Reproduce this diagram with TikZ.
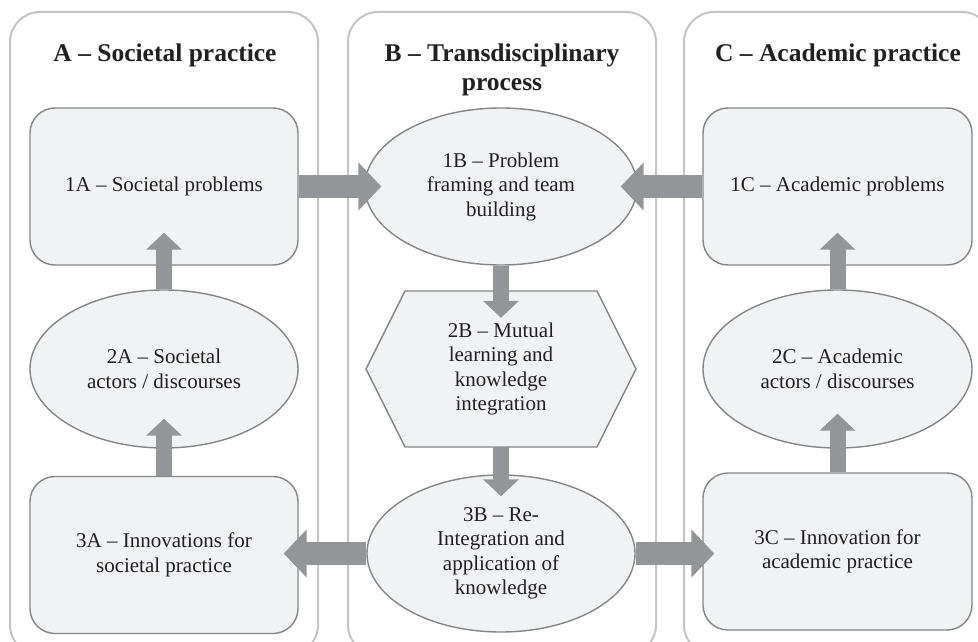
\documentclass[tikz,border=0pt]{standalone}
\usepackage{fontspec}
\setmainfont{Liberation Serif}
\usetikzlibrary{arrows.meta,shapes.geometric}
\definecolor{panelgrey}{HTML}{C4C4C4}
\definecolor{boxline}{HTML}{858585}
\definecolor{boxfill}{HTML}{F1F2F4}
\definecolor{arrowgrey}{HTML}{939598}
\definecolor{txt}{HTML}{231F20}
\begin{document}
\begin{tikzpicture}[x=1pt,y=-1pt,
  panel/.style={draw=panelgrey, line width=2pt, rounded corners=30pt, minimum width=308pt, minimum height=643pt, inner sep=0pt},
  ptitle/.style={text=txt, font=\bfseries\fontsize{25.5}{28.5}\selectfont, align=center, inner sep=0pt},
  bodytext/.style={text=txt, font=\fontsize{21}{24.5}\selectfont, align=center, inner sep=0pt},
  rbox/.style={bodytext, draw=boxline, fill=boxfill, line width=1.4pt, rounded corners=25pt, minimum width=268pt, minimum height=157pt},
  ebox/.style={bodytext, shape=ellipse, draw=boxline, fill=boxfill, line width=1.4pt, minimum width=268pt, minimum height=158pt},
  hexline/.style={draw=boxline, fill=boxfill, line width=1.4pt, line join=miter},
  varrow/.style={draw=arrowgrey, line width=16pt, -{Triangle[width=35pt,length=17pt]}},
  harrow/.style={draw=arrowgrey, line width=23pt, -{Triangle[width=47pt,length=23pt]}}
]
\useasboundingbox (0,0) rectangle (978,642);
\clip (0,0) rectangle (978,642);

% panels
\node[panel] (pA) at (164,333.5) {};
\node[panel] (pB) at (502,333.5) {};
\node[panel] (pC) at (838,333.5) {};
\node[ptitle, anchor=base] (tA) at (165,62) {A – Societal practice};
\node[ptitle, anchor=north] (tB) at (502,44) {B – Transdisciplinary\\process};
\node[ptitle, anchor=base] (tC) at (838,62) {C – Academic practice};

% column A
\node[rbox] (a1) at (164,186.5) {1A – Societal problems};
\node[ebox] (a2) at (164,369) {2A – Societal\\actors / discourses};
\node[rbox] (a3) at (164,555) {3A – Innovations for\\societal practice};

% column B
\node[ebox, minimum width=272pt, minimum height=157pt] (b1) at (501,186.5) {1B – Problem\\framing and team\\building};
\draw[hexline] (366,369) -- (405,291) -- (597,291) -- (636,369) -- (597,447) -- (405,447) -- cycle;
\node[bodytext, minimum width=268pt, minimum height=156pt] (b2) at (501,369) {2B – Mutual\\learning and\\knowledge\\integration};
\node[ebox, minimum height=157pt] (b3) at (501,553.5) {3B – Re-\\Integration and\\application of\\knowledge};

% column C
\node[rbox, minimum width=269pt] (c1) at (837.5,186.5) {1C – Academic problems};
\node[ebox, minimum width=269pt] (c2) at (837.5,369) {2C – Academic\\actors / discourses};
\node[rbox, minimum width=269pt] (c3) at (837.5,551.5) {3C – Innovation for\\academic practice};

% arrows
\draw[varrow, shorten >=-33pt] (a2.north) -- (a1.south);
\draw[varrow, shorten >=-30pt] (a3.north) -- (a2.south);
\draw[harrow, shorten >=-17pt] (a1.east) -- (a1.east -| b1.west);
\draw[harrow, shorten >=-17pt] (c1.west) -- (c1.west -| b1.east);
\draw[varrow, shorten >=-27pt] (b1.south) -- (b2.north);
\draw[varrow, shorten >=-22pt] (b2.south) -- (b3.north);
\draw[harrow, shorten >=-15pt] (b3.west) -- (b3.west -| a3.east);
\draw[harrow, shorten >=-12pt] (b3.east) -- (b3.east -| c3.west);
\draw[varrow, shorten >=-35pt] (c3.north) -- (c2.south);
\draw[varrow, shorten >=-33pt] (c2.north) -- (c1.south);
\end{tikzpicture}
\end{document}
